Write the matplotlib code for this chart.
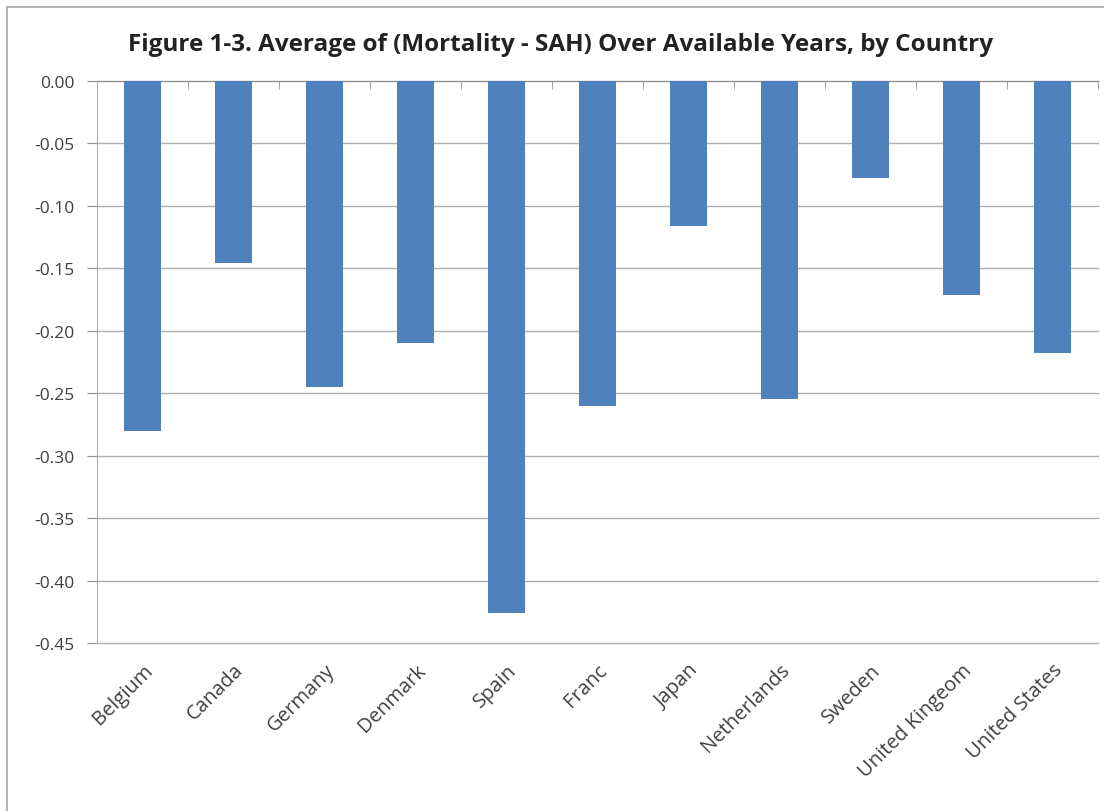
import numpy as np
import matplotlib.pyplot as plt
from matplotlib.patches import Rectangle

# data
countries = ['Belgium', 'Canada', 'Germany', 'Denmark', 'Spain', 'Franc', 'Japan',
             'Netherlands', 'Sweden', 'United Kingeom', 'United States']
values = [-0.280, -0.146, -0.245, -0.210, -0.426, -0.260, -0.116,
          -0.255, -0.078, -0.171, -0.218]
yticks = [0.00, -0.05, -0.10, -0.15, -0.20, -0.25, -0.30, -0.35, -0.40, -0.45]

plt.rcParams['font.family'] = ['Open Sans', 'DejaVu Sans']

fig = plt.figure(figsize=(11.04, 8.12), dpi=100)
# outer chart border like Excel
fig.patches.append(Rectangle((7 / 1104, -0.1), 1.2, (812 - 8) / 812 + 0.1,
                             transform=fig.transFigure, fill=False,
                             edgecolor='#a6a6a6', linewidth=1.2))

ax = fig.add_axes([97 / 1104, 1 - 644 / 812, (1098 - 97) / 1104, (644 - 82) / 812])

x = np.arange(len(countries))
ax.bar(x, values, width=0.40, color='#4f81bd', zorder=3)

ax.set_xlim(-0.5, len(countries) - 0.5)
ax.set_ylim(-0.45, 0)
ax.set_yticks(yticks)
ax.set_yticklabels(['%.2f' % v for v in yticks], fontsize=12.5, color='#404040')
ax.grid(axis='y', color='#b0b0b0', linewidth=1.0, zorder=0)
for gl in ax.get_ygridlines():
    gl.set_clip_on(False)

ax.set_xticks(x)
ax.set_xticklabels(countries, rotation=45, ha='right', rotation_mode='anchor',
                   fontsize=14.5, color='#404040')
ax.set_xticks(np.arange(len(countries) + 1) - 0.5, minor=True)
ax.tick_params(axis='x', which='major', length=0, pad=12)
ax.tick_params(axis='x', which='minor', bottom=False, top=True, direction='in',
               length=6, color='#909090')
ax.tick_params(axis='y', length=7, color='#909090', pad=9)

for s in ['right', 'bottom']:
    ax.spines[s].set_visible(False)
ax.spines['top'].set_color('#909090')
ax.spines['left'].set_color('#b0b0b0')

fig.text(0.508, 0.944, 'Figure 1-3. Average of (Mortality - SAH) Over Available Years, by Country',
         ha='center', va='center', fontsize=17.5, fontweight='bold', color='#222222')

fig.savefig('out.png', dpi=100)
